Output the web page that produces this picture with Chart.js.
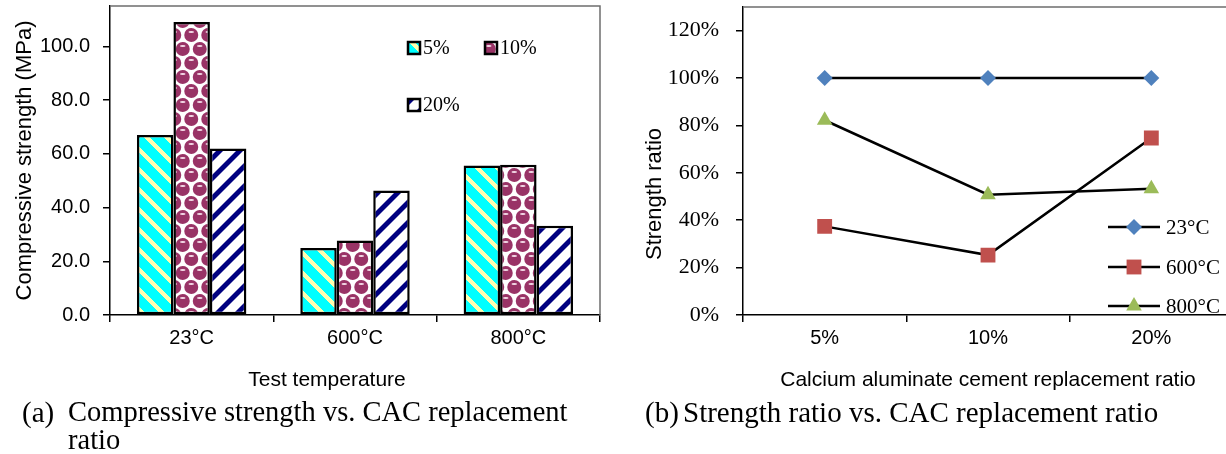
<!DOCTYPE html>
<html>
<head>
<meta charset="utf-8">
<script src="https://cdn.jsdelivr.net/npm/chart.js@4.4.1/dist/chart.umd.min.js"></script>
<style>
  html, body { margin:0; padding:0; background:#fff; width:1226px; height:454px; overflow:hidden; }
  #chartA { position:absolute; left:0; top:0; }
  #chartB { position:absolute; left:620px; top:0; }
  .cap { position:absolute; font-family:"Liberation Serif","Times New Roman",serif; font-size:29px; line-height:28px; color:#000; white-space:nowrap; }
</style>
</head>
<body>
<canvas id="chartA" width="654" height="400"></canvas>
<canvas id="chartB" width="620" height="400"></canvas>
<div class="cap" style="left:22px;top:398px;">(a)</div>
<div class="cap" style="left:68px;top:398px;font-size:28.5px;">Compressive strength vs. CAC replacement</div>
<div class="cap" style="left:68px;top:426px;font-size:28.5px;">ratio</div>
<div class="cap" style="left:645px;top:398px;">(b)</div>
<div class="cap" style="left:683px;top:398px;">Strength ratio vs. CAC replacement ratio</div>
<script>
// (a) compressive strength, MPa
const tempLabels = ["23°C", "600°C", "800°C"];
const strength5  = [67.0, 24.9, 55.6];
const strength10 = [109.0, 27.7, 55.9];
const strength20 = [62.0, 46.3, 33.2];
const strengthTicks = [0, 20, 40, 60, 80, 100];

// (b) strength ratio, %
const cacLabels = ["5%", "10%", "20%"];
const ratio23  = [100, 100, 100];
const ratio600 = [37.4, 25.3, 74.7];
const ratio800 = [82.2, 50.8, 53.3];
const ratioTicks = [0, 20, 40, 60, 80, 100, 120];

const SANS = '"Liberation Sans", Arial, sans-serif';
const SERIF = '"Liberation Serif", "Times New Roman", serif';

// diagonal stripe tile, dir 1 = "/", -1 = "\"
function stripes(size, width, bg, fg, dir){
  const c = document.createElement("canvas");
  c.width = c.height = size;
  const g = c.getContext("2d");
  const img = g.createImageData(size, size);
  for(let y=0; y<size; y++){
    for(let x=0; x<size; x++){
      let d = dir > 0 ? (x + y) % size : ((x - y) % size + size) % size;
      const dist = Math.abs(d + 0.5 - size/2);
      const a = Math.max(0, Math.min(1, width/2 + 0.5 - dist));
      const i = (y*size + x)*4;
      for(let k=0; k<3; k++) img.data[i+k] = Math.round(bg[k]*(1-a) + fg[k]*a);
      img.data[i+3] = 255;
    }
  }
  g.putImageData(img, 0, 0);
  return g.createPattern(c, "repeat");
}

// maroon "sphere" tile
function spheres(){
  const W = 17, H = 28;
  const c = document.createElement("canvas");
  c.width = W; c.height = H;
  const g = c.getContext("2d");
  g.fillStyle = "#fff";
  g.fillRect(0, 0, W, H);
  const base = [[4.25,7],[12.75,21]];
  const centers = [];
  base.forEach(([x,y]) => { for(const dx of [-W,0,W]) for(const dy of [-H,0,H]) centers.push([x+dx, y+dy]); });
  centers.forEach(([cx,cy]) => {
    g.fillStyle = "#993366";
    g.beginPath(); g.ellipse(cx, cy, 7, 7, 0, 0, Math.PI*2); g.fill();
    g.fillStyle = "#f4dce8";
    g.beginPath(); g.ellipse(cx, cy-3, 2.8, 1.1, 0, 0, Math.PI*2); g.fill();
  });
  return g.createPattern(c, "repeat");
}

const pat5  = stripes(20, 6, [0,255,255], [255,255,176], -1);
const pat10 = spheres();
const pat20 = stripes(20, 7, [255,255,255], [0,0,128], 1);

const plotFrame = {
  id: "plotFrame",
  beforeDatasetsDraw(chart){
    const {ctx, chartArea:a} = chart;
    ctx.save();
    ctx.strokeStyle = "#6e6e6e";
    ctx.lineWidth = 1.5;
    ctx.beginPath();
    ctx.moveTo(a.left, a.top);
    ctx.lineTo(a.right, a.top);
    ctx.lineTo(a.right, a.bottom);
    ctx.stroke();
    ctx.restore();
  }
};

function textPlugin(id, items){
  return {
    id,
    afterDraw(chart){
      const ctx = chart.ctx;
      items.forEach(t => {
        ctx.save();
        ctx.translate(t.x, t.y);
        if(t.rot) ctx.rotate(t.rot);
        ctx.font = t.font;
        ctx.fillStyle = "#000";
        ctx.textAlign = "center";
        ctx.textBaseline = "middle";
        ctx.fillText(t.text, 0, 0);
        ctx.restore();
      });
    }
  };
}

// legend of (a): swatches in two rows inside the plot
const legendA = {
  id: "legendA",
  afterDraw(chart){
    const spots = [[407,48],[484,48],[407,105]];
    const ctx = chart.ctx;
    chart.data.datasets.forEach((ds,i) => {
      const [x,y] = spots[i];
      ctx.save();
      ctx.fillStyle = ds.backgroundColor;
      ctx.fillRect(x, y-7, 14, 14);
      ctx.lineWidth = 2.5;
      ctx.strokeStyle = "#000";
      ctx.strokeRect(x+1, y-6, 12, 12);
      ctx.fillStyle = "#000";
      ctx.font = "20px " + SERIF;
      ctx.textBaseline = "middle";
      ctx.fillText(ds.label, x+16, y+1);
      ctx.restore();
    });
  }
};

// legend of (b): line + marker, bottom right of the plot
const legendB = {
  id: "legendB",
  afterDraw(chart){
    const rows = [227, 267, 306];
    const ctx = chart.ctx;
    chart.data.datasets.forEach((ds,i) => {
      const y = rows[i];
      ctx.save();
      ctx.strokeStyle = ds.borderColor;
      ctx.lineWidth = ds.borderWidth;
      ctx.beginPath(); ctx.moveTo(488, y); ctx.lineTo(540, y); ctx.stroke();
      ctx.fillStyle = ds.pointBackgroundColor;
      Chart.helpers.drawPoint(ctx, {pointStyle: ds.pointStyle, radius: ds.pointRadius, rotation: 0, borderWidth: 0}, 514, y);
      ctx.fillStyle = "#000";
      ctx.font = "21px " + SERIF;
      ctx.textBaseline = "middle";
      ctx.fillText(ds.label, 546, y+1);
      ctx.restore();
    });
  }
};

const axisGrid = {drawOnChartArea:false, drawTicks:true, tickLength:7, color:"#000", lineWidth:1.5};
const axisBorder = {display:true, color:"#000", width:1.5};
const noPad = s => { s.paddingTop = 0; s.paddingBottom = 0; s.paddingLeft = 0; s.paddingRight = 0; };

new Chart(document.getElementById("chartA"), {
  type: "bar",
  data: {
    labels: tempLabels,
    datasets: [
      {label:"5%",  data:strength5,  backgroundColor:pat5,  borderColor:"#000", borderWidth:2.5},
      {label:"10%", data:strength10, backgroundColor:pat10, borderColor:"#000", borderWidth:2.5},
      {label:"20%", data:strength20, backgroundColor:pat20, borderColor:"#000", borderWidth:2.5}
    ]
  },
  options: {
    responsive:false,
    animation:false,
    layout:{autoPadding:false, padding:{left:0, top:6, right:54, bottom:0}},
    datasets:{bar:{categoryPercentage:0.67, barPercentage:1, borderSkipped:false}},
    plugins:{legend:{display:false}, tooltip:{enabled:false}},
    scales:{
      x:{
        grid:Object.assign({offset:true}, axisGrid),
        border:axisBorder,
        ticks:{color:"#000", font:{family:SANS, size:20}, padding:4},
        afterFit: s => { s.height = 85; noPad(s); }
      },
      y:{
        min:0, max:115,
        afterBuildTicks: s => { s.ticks = strengthTicks.map(v => ({value:v})); },
        grid:axisGrid,
        border:axisBorder,
        ticks:{color:"#000", font:{family:SANS, size:20}, padding:13, callback: v => v.toFixed(1)},
        title:{display:true, text:"Compressive strength (MPa)", color:"#000", font:{family:SANS, size:22}, padding:{top:12, bottom:0}},
        afterFit: s => { s.width = 110; noPad(s); }
      }
    }
  },
  plugins:[plotFrame, legendA, textPlugin("titlesA", [{text:"Test temperature", x:327, y:380, font:"21px " + SANS}])]
});

new Chart(document.getElementById("chartB"), {
  type: "line",
  data: {
    labels: cacLabels,
    datasets: [
      {label:"23°C",  data:ratio23,  borderColor:"#000", borderWidth:2.5, pointStyle:"rectRot",  pointRadius:8,    pointBackgroundColor:"#4F81BD", pointBorderWidth:0},
      {label:"600°C", data:ratio600, borderColor:"#000", borderWidth:2.5, pointStyle:"rect",     pointRadius:10.5, pointBackgroundColor:"#C0504D", pointBorderWidth:0},
      {label:"800°C", data:ratio800, borderColor:"#000", borderWidth:2.5, pointStyle:"triangle", pointRadius:9,    pointBackgroundColor:"#9BBB59", pointBorderWidth:0}
    ]
  },
  options: {
    responsive:false,
    animation:false,
    layout:{autoPadding:false, padding:{left:0, top:7, right:7, bottom:0}},
    plugins:{legend:{display:false}, tooltip:{enabled:false}},
    scales:{
      x:{
        offset:true,
        grid:Object.assign({offset:true}, axisGrid),
        border:axisBorder,
        ticks:{color:"#000", font:{family:SANS, size:20}, padding:4},
        title:{display:true, text:"Calcium aluminate cement replacement ratio", color:"#000", font:{family:SANS, size:21}, padding:{top:0, bottom:7}},
        afterFit: s => { s.height = 85; noPad(s); }
      },
      y:{
        min:0, max:130,
        afterBuildTicks: s => { s.ticks = ratioTicks.map(v => ({value:v})); },
        grid:axisGrid,
        border:axisBorder,
        ticks:{color:"#000", font:{family:SERIF, size:22}, padding:17, callback: v => v + "%"},
        afterFit: s => { s.width = 123; noPad(s); }
      }
    }
  },
  plugins:[plotFrame, legendB, textPlugin("titlesB", [{text:"Strength ratio", x:35, y:194, rot:-Math.PI/2, font:"22px " + SANS}])]
});
</script>
</body>
</html>
